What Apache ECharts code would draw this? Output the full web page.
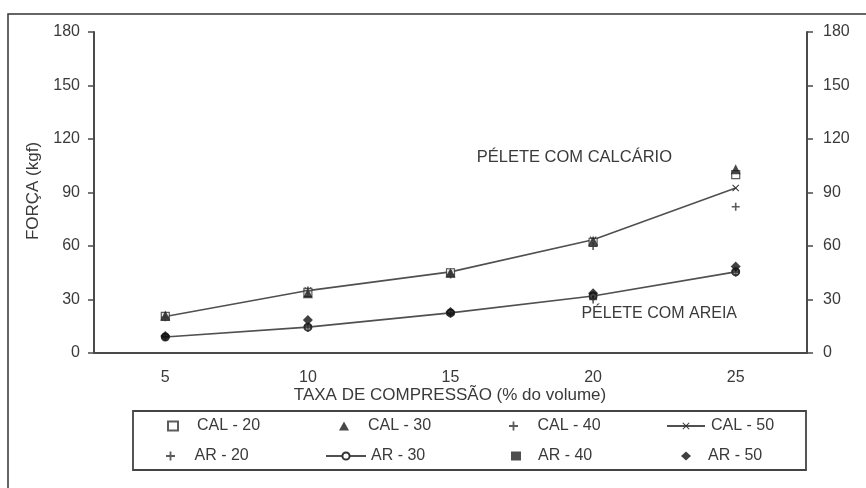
<!DOCTYPE html>
<html><head><meta charset="utf-8">
<script src="https://cdn.jsdelivr.net/npm/echarts@6/dist/echarts.min.js"></script>
<style>html,body{margin:0;padding:0;background:#fff}#c{width:866px;height:488px}</style>
</head><body><div id="c"></div>
<script>
const categories = ['5', '10', '15', '20', '25'];
const yTicks = [0, 30, 60, 90, 120, 150, 180];
const cal20 = [20.5, 34, 45, 62, 100];
const cal30 = [21, 33.5, 45, 63, 103];
const cal40 = [20, 35, 44, 60, 82];
const cal50 = [20.5, 35, 45.5, 63.5, 92.5];
const ar20 = [9, 14, 22, 30, 45];
const ar30 = [9, 14.5, 22.5, 32, 45.5];
const ar40 = [9, 15, 22, 31, 46];
const ar50 = [9.5, 18.5, 23, 33.5, 48.5];

const FONT = 'Liberation Sans, Arial, sans-serif';
const FS = 16;
const TXT = '#3a3a3a';
const plusPath = 'path://M4,0h2v4h4v2h-4v4h-2v-4h-4v-2h4z';
const xPath = 'path://M0,1L1,0L5,4L9,0L10,1L6,5L10,9L9,10L5,6L1,10L0,9L4,5Z';

const chart = echarts.init(document.getElementById('c'), null, {renderer: 'canvas'});
const axLine = {show: true, lineStyle: {color: '#4a4a4a', width: 2}};
function legendAt(name, left, top, w, pad) {
  return {data: [name], left: left, top: top, itemWidth: w || 10, itemHeight: 9, itemGap: 0,
    textStyle: {fontFamily: FONT, fontSize: FS, color: TXT, padding: [0, 0, 0, pad]},
    padding: 0, selectedMode: false};
}
chart.setOption({
  animation: false,
  grid: {left: 94, right: 59, top: 32, bottom: 135},
  xAxis: {type: 'category', data: categories, boundaryGap: true,
    axisLine: axLine, axisTick: {show: false},
    axisLabel: {fontFamily: FONT, fontSize: FS, color: TXT, margin: 17}},
  yAxis: [
    {type: 'value', min: 0, max: 180, interval: 30, position: 'left',
     axisLine: axLine,
     axisTick: {show: true, length: 6, lineStyle: {color: '#4a4a4a', width: 1.5}},
     splitLine: {show: false},
     axisLabel: {fontFamily: FONT, fontSize: FS, color: TXT, margin: 14,
       formatter: v => yTicks.includes(v) ? String(v) : ''}},
    {type: 'value', min: 0, max: 180, interval: 30, position: 'right',
     axisLine: axLine,
     axisTick: {show: true, length: 6, lineStyle: {color: '#4a4a4a', width: 1.5}},
     splitLine: {show: false},
     axisLabel: {fontFamily: FONT, fontSize: FS, color: TXT, margin: 16,
       formatter: v => yTicks.includes(v) ? String(v) : ''}}
  ],
  legend: [
    legendAt('CAL - 20', 167, 418, 10, 14),
    legendAt('CAL - 30', 339, 418, 10, 14),
    legendAt('CAL - 40', 509, 418, 10, 14),
    legendAt('CAL - 50', 666, 418, 38, 1),
    legendAt('AR - 20', 166, 448, 10, 14),
    legendAt('AR - 30', 325, 448, 40, 0),
    legendAt('AR - 40', 511, 448, 10, 12),
    legendAt('AR - 50', 681, 448, 10, 12)
  ],
  graphic: [
    {type: 'rect', shape: {x: 8, y: 14, width: 880, height: 500}, style: {fill: 'none', stroke: '#333', lineWidth: 1.5}, z: -1},
    {type: 'rect', shape: {x: 133, y: 411, width: 673, height: 59}, style: {fill: 'none', stroke: '#444', lineWidth: 1.8}},
    {type: 'text', x: 450, y: 395, style: {text: 'TAXA DE COMPRESSÃO (% do volume)', font: '17px ' + FONT, fill: TXT, align: 'center', verticalAlign: 'middle'}},
    {type: 'text', x: 33, y: 191, rotation: Math.PI / 2, style: {text: 'FORÇA (kgf)', font: '17px ' + FONT, fill: TXT, align: 'center', verticalAlign: 'middle'}},
    {type: 'text', x: 672, y: 157, style: {text: 'PÉLETE COM CALCÁRIO', font: '16.5px ' + FONT, fill: TXT, align: 'right', verticalAlign: 'middle'}},
    {type: 'text', x: 737, y: 314, style: {text: 'PÉLETE COM AREIA', font: '16px ' + FONT, fill: TXT, align: 'right', verticalAlign: 'middle'}}
  ],
  series: [
    {name: 'CAL - 50', type: 'line', data: cal50, symbol: xPath, symbolSize: 7,
     lineStyle: {color: '#505050', width: 1.6}, itemStyle: {color: '#333'}, z: 2},
    {name: 'AR - 30', type: 'line', data: ar30, symbol: 'emptyCircle', symbolSize: 7,
     lineStyle: {color: '#505050', width: 1.6}, itemStyle: {color: '#333', borderColor: '#333', borderWidth: 1.2}, z: 2},
    {name: 'CAL - 20', type: 'scatter', data: cal20, symbol: 'rect', symbolSize: 8,
     itemStyle: {color: '#fff', borderColor: '#333', borderWidth: 1.2}, z: 3},
    {name: 'CAL - 30', type: 'scatter', data: cal30, symbol: 'triangle', symbolSize: 10,
     itemStyle: {color: '#1a1a1a'}, z: 3},
    {name: 'CAL - 40', type: 'scatter', data: cal40, symbol: plusPath, symbolSize: 8,
     itemStyle: {color: '#333'}, z: 3},
    {name: 'AR - 20', type: 'scatter', data: ar20, symbol: plusPath, symbolSize: 8,
     itemStyle: {color: '#333'}, z: 3},
    {name: 'AR - 40', type: 'scatter', data: ar40, symbol: 'rect', symbolSize: [8, 3],
     itemStyle: {color: '#222'}, z: 3},
    {name: 'AR - 50', type: 'scatter', data: ar50, symbol: 'diamond', symbolSize: 10,
     itemStyle: {color: '#111'}, z: 4}
  ]
});
</script></body></html>
